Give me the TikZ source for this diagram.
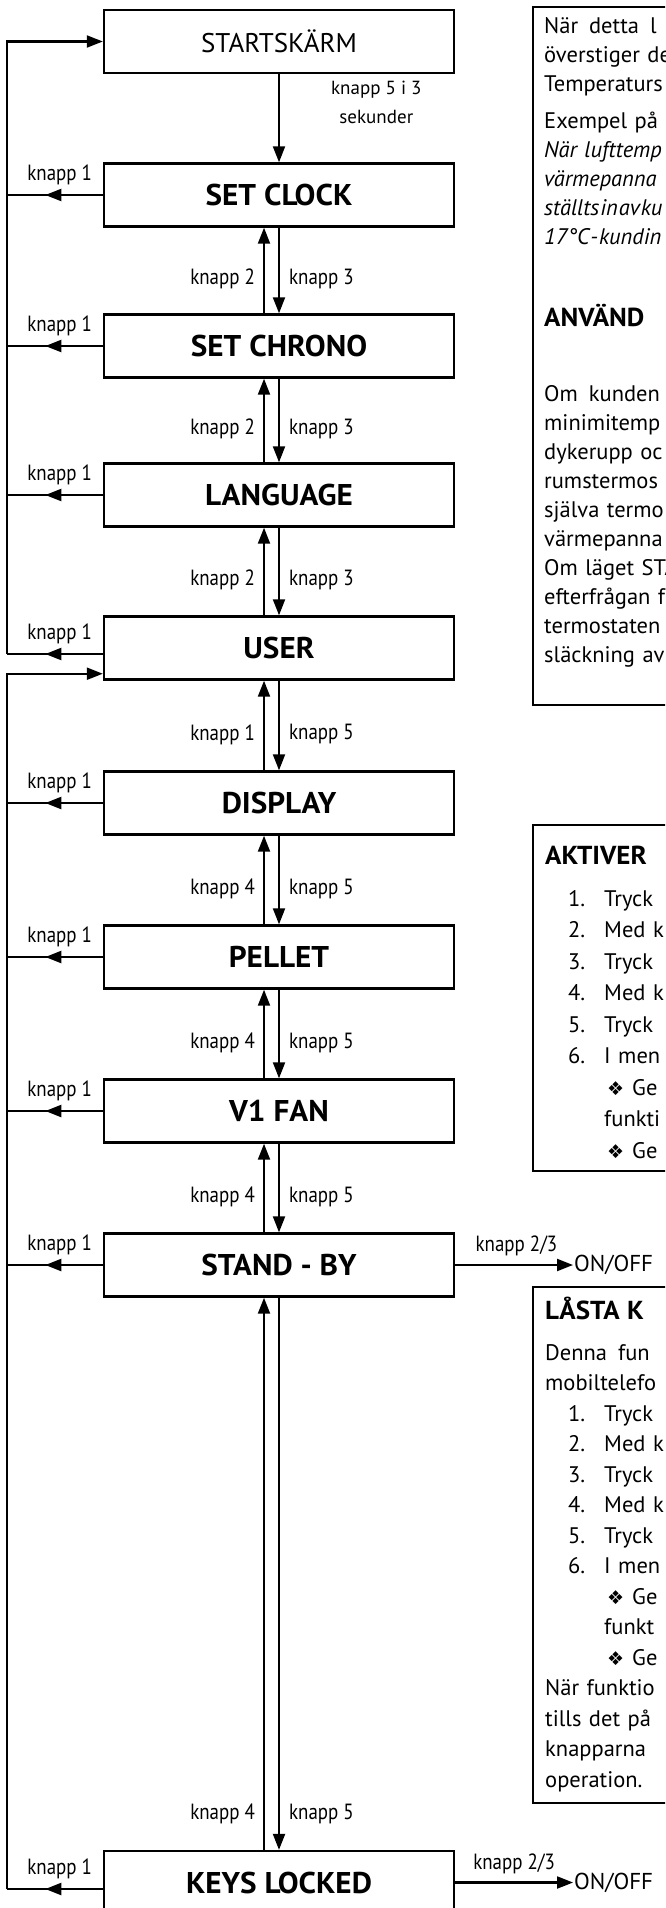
\documentclass[tikz,border=0pt]{standalone}
\usepackage{fontspec}
\setmainfont{PT Sans}
\newfontfamily\keyfont[FakeStretch=0.86]{PT Sans}
\newfontfamily\titlefont[FakeStretch=1.04]{PT Sans}
\newfontfamily\dingfont{DejaVu Sans}
\usetikzlibrary{calc, arrows.meta, decorations.markings}

\newcommand{\numitem}[2]{\hspace*{23pt}\makebox[36pt][l]{#1}#2}
\newcommand{\dingitem}[1]{\hspace*{62pt}{\dingfont\fontsize{19}{19}\selectfont ❖}\hspace{8pt}#1}

\tikzset{
  menu/.style={draw, line width=2.4pt, minimum width=350pt, minimum height=63pt, inner sep=0pt, font=\titlefont\fontsize{30}{32}\selectfont\bfseries},
  link/.style={line width=2.2pt, -{Triangle[length=16pt,width=12pt]}},
  midtip/.style={line width=2.2pt, postaction={decorate}, decoration={markings, mark=at position 0.6 with {\arrow{Triangle[length=16pt,width=12pt]}}}},
  key/.style={font=\keyfont\fontsize{22}{24}\selectfont, inner sep=1pt},
  infobox/.style={line width=1.2pt},
  infotext/.style={anchor=base west, inner sep=0pt, text width=200pt, align=left, font=\fontsize{22.5}{29}\selectfont},
  onoff/.style={anchor=west, inner sep=1pt, font=\fontsize{23}{25}\selectfont}
}

\begin{document}
\begin{tikzpicture}[x=1pt, y=-1pt]
\useasboundingbox (0,0) rectangle (665,1908);
\fill[white] (0,0) rectangle (665,1908);
\clip (0,0) rectangle (665,1908);

% menu column
\node[menu, font=\fontsize{27}{29}\selectfont] (start) at (279,41.5) {STARTSKÄRM};
\node[menu] (clock) at (279,195) {SET CLOCK};
\node[menu] (chrono) at (279,346) {SET CHRONO};
\node[menu] (lang) at (279,495) {LANGUAGE};
\node[menu] (user) at (279,648) {USER};
\node[menu] (disp) at (279,803) {DISPLAY};
\node[menu] (pellet) at (279,957) {PELLET};
\node[menu] (fan) at (279,1111) {V1 FAN};
\node[menu] (standby) at (279,1265) {STAND - BY};
\node[menu] (keys) at (279,1882.5) {KEYS LOCKED};

% up and down between the menus
\draw[link] (start) -- node[key, right=50pt, pos=0.32, align=center, font=\fontsize{19}{29}\selectfont] (hold) {knapp 5 i 3\\sekunder} (clock);
\draw[link] ($(chrono.north)+(-15,0)$) -- node[key, left=7pt, pos=0.4] (up1) {knapp 2} ($(clock.south)+(-15,0)$);
\draw[link] (clock) -- node[key, right=8pt, pos=0.6] (dn1) {knapp 3} (chrono);
\draw[link] ($(lang.north)+(-15,0)$) -- node[key, left=7pt, pos=0.4] (up2) {knapp 2} ($(chrono.south)+(-15,0)$);
\draw[link] (chrono) -- node[key, right=8pt, pos=0.6] (dn2) {knapp 3} (lang);
\draw[link] ($(user.north)+(-15,0)$) -- node[key, left=7pt, pos=0.4] (up3) {knapp 2} ($(lang.south)+(-15,0)$);
\draw[link] (lang) -- node[key, right=8pt, pos=0.6] (dn3) {knapp 3} (user);
\draw[link] ($(disp.north)+(-15,0)$) -- node[key, left=7pt, pos=0.4] (up4) {knapp 1} ($(user.south)+(-15,0)$);
\draw[link] (user) -- node[key, right=8pt, pos=0.6] (dn4) {knapp 5} (disp);
\draw[link] ($(pellet.north)+(-15,0)$) -- node[key, left=7pt, pos=0.4] (up5) {knapp 4} ($(disp.south)+(-15,0)$);
\draw[link] (disp) -- node[key, right=8pt, pos=0.6] (dn5) {knapp 5} (pellet);
\draw[link] ($(fan.north)+(-15,0)$) -- node[key, left=7pt, pos=0.4] (up6) {knapp 4} ($(pellet.south)+(-15,0)$);
\draw[link] (pellet) -- node[key, right=8pt, pos=0.6] (dn6) {knapp 5} (fan);
\draw[link] ($(standby.north)+(-15,0)$) -- node[key, left=7pt, pos=0.4] (up7) {knapp 4} ($(fan.south)+(-15,0)$);
\draw[link] (fan) -- node[key, right=8pt, pos=0.6] (dn7) {knapp 5} (standby);
\draw[link] ($(keys.north)+(-15,0)$) -- node[key, left=7pt, pos=0.065] (up8) {knapp 4} ($(standby.south)+(-15,0)$);
\draw[link] (standby) -- node[key, right=8pt, pos=0.935] (dn8) {knapp 5} (keys);

% knapp 1 back to the start
\coordinate (busA) at (7,654);
\coordinate (busB) at (7,1889);
\draw[link] (busA) |- (start.west);
\draw[link] (busB) |- ($(user.south west)+(0,-7)$);
\draw[midtip] (clock.west) -- node[key, above=8pt, pos=0.45] (b1) {knapp 1} (clock.west -| busA);
\draw[midtip] (chrono.west) -- node[key, above=8pt, pos=0.45] (b2) {knapp 1} (chrono.west -| busA);
\draw[midtip] (lang.west) -- node[key, above=8pt, pos=0.45] (b3) {knapp 1} (lang.west -| busA);
\draw[midtip] ($(user.west)+(0,6)$) -- node[key, above=8pt, pos=0.45] (b4) {knapp 1} (busA);
\draw[midtip] (disp.west) -- node[key, above=8pt, pos=0.45] (b5) {knapp 1} (disp.west -| busB);
\draw[midtip] (pellet.west) -- node[key, above=8pt, pos=0.45] (b6) {knapp 1} (pellet.west -| busB);
\draw[midtip] (fan.west) -- node[key, above=8pt, pos=0.45] (b7) {knapp 1} (fan.west -| busB);
\draw[midtip] (standby.west) -- node[key, above=8pt, pos=0.45] (b8) {knapp 1} (standby.west -| busB);
\draw[midtip] ($(keys.west)+(0,6.5)$) -- node[key, above=8pt, pos=0.45] (b9) {knapp 1} (busB);

% on/off
\node[onoff] (on1) at (573,1265) {ON/OFF};
\node[onoff] (on2) at (573,1882.5) {ON/OFF};
\draw[link] (standby) -- node[key, above=7pt, pos=0.52] (k23a) {knapp 2/3} (on1);
\draw[link] (keys) -- node[key, above=7pt, pos=0.5] (k23b) {knapp 2/3} (on2);

% text boxes on the right
\draw[infobox] (533,7) rectangle (690,705);
\node[infotext] (info) at (544,34) {När\hspace{11pt}detta\hspace{11pt}l\\
överstiger de\\
Temperaturs\\[8pt]
Exempel på a\\
\textit{När lufttemp}\\
\textit{värmepanna}\\
\textit{ställts\hspace{1pt}in\hspace{1pt}av\hspace{1pt}ku}\\
\textit{17°C\hspace{1pt}-\hspace{1pt}kundin}\\[53pt]
{\titlefont\bfseries\fontsize{26}{29}\selectfont ANVÄND}\\[46pt]
Om\hspace{11pt}kunden\\
minimitemp\\
dykerupp oc\\
rumstermos\\
själva termo\\
värmepanna\\
Om läget STA\\
efterfrågan f\\
termostaten\\
släckning av};

\draw[infobox] (533,825) rectangle (690,1171);
\node[infotext, font=\fontsize{22.5}{31.5}\selectfont] (act) at (545,864) {{\titlefont\bfseries\fontsize{26}{31.5}\selectfont AKTIVER}\\[10.5pt]
\numitem{1.}{Tryck}\\
\numitem{2.}{Med k}\\
\numitem{3.}{Tryck}\\
\numitem{4.}{Med k}\\
\numitem{5.}{Tryck}\\
\numitem{6.}{I men}\\
\dingitem{Ge}\\
\hspace*{59pt}funkti\\
\dingitem{Ge}};

\draw[infobox] (533,1287) rectangle (690,1803);
\node[infotext, font=\fontsize{22.5}{30.5}\selectfont] (lock) at (545,1319) {{\titlefont\bfseries\fontsize{26}{30.5}\selectfont LÅSTA K}\\[10.5pt]
Denna\hspace{11pt}fun\\
mobiltelefo\\
\numitem{1.}{Tryck}\\
\numitem{2.}{Med k}\\
\numitem{3.}{Tryck}\\
\numitem{4.}{Med k}\\
\numitem{5.}{Tryck}\\
\numitem{6.}{I men}\\
\dingitem{Ge}\\
\hspace*{59pt}funkt\\
\dingitem{Ge}\\
När funktio\\
tills det på\\
knapparna\\
operation.};
\end{tikzpicture}
\end{document}
